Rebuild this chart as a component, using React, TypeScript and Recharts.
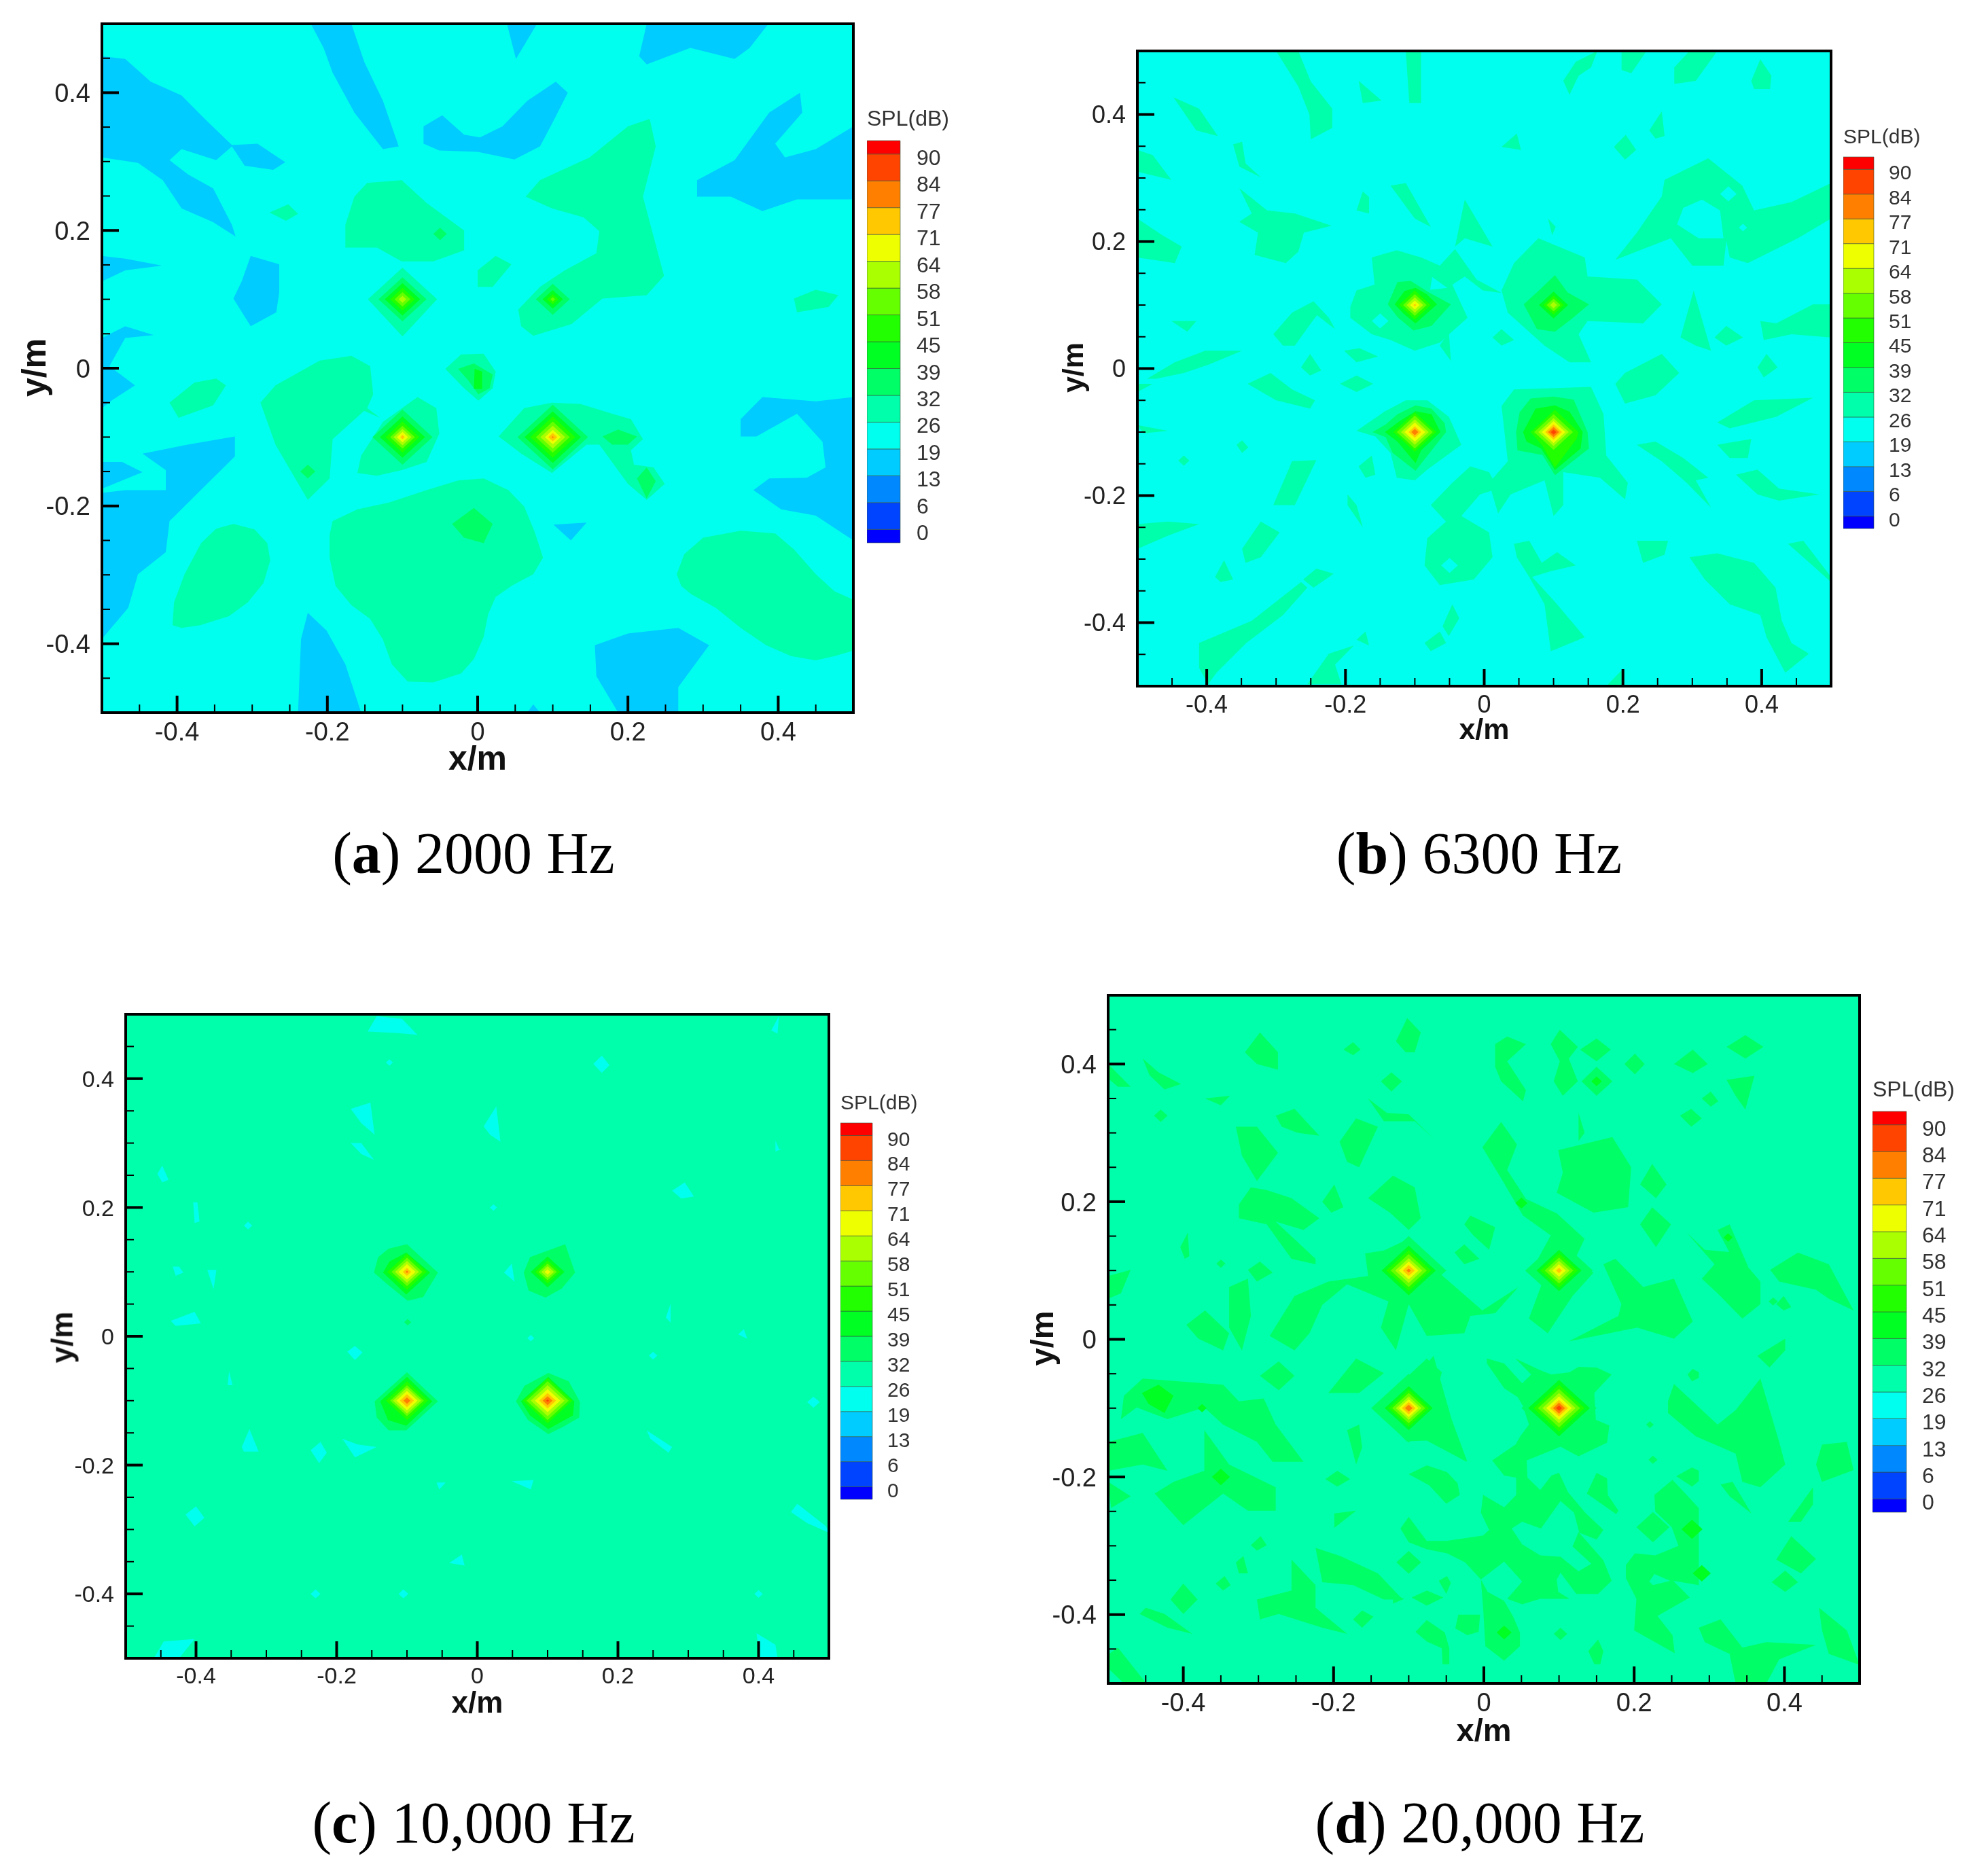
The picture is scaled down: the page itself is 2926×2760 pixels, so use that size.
import React from 'react';
import { Bar, BarChart, Scatter, ScatterChart, XAxis, YAxis } from 'recharts';

type Poly = [number[], number[]];
type Spot = [number, number, number];
type Peak = [number, number, number[]];

const tickValues = [-0.5, -0.45, -0.4, -0.35, -0.3, -0.25, -0.2, -0.15, -0.1, -0.05, 0, 0.05, 0.1, 0.15, 0.2, 0.25, 0.3, 0.35, 0.4, 0.45, 0.5];
const majorTicks = [-0.4, -0.2, 0, 0.2, 0.4];

const levelLabels = ['0', '6', '13', '19', '26', '32', '39', '45', '51', '58', '64', '71', '77', '84', '90'];
const levelPositions = [0.385, 1.385, 2.385, 3.385, 4.385, 5.385, 6.385, 7.385, 8.385, 9.385, 10.385, 11.385, 12.385, 13.385, 14.385];
const bandColors = ['#0000ff', '#0044ff', '#0088ff', '#00ccff', '#00ffee', '#00ffaa', '#00ff66', '#00ff22', '#22ff00', '#66ff00', '#aaff00', '#eeff00', '#ffc800', '#ff8000', '#ff4400', '#ff0000'];
const bandSizes = [0.5, 1, 1, 1, 1, 1, 1, 1, 1, 1, 1, 1, 1, 1, 1, 0.5];

const BLUE = '#00ccff';
const CYAN = '#00ffee';
const AQUA = '#00ffaa';
const SPRING = '#00ff66';
const GREEN = '#00ff22';
// colours of the nested diamonds round a source, from the outside in (radius 0 = band not drawn as a diamond)
const peakColors = [SPRING, GREEN, '#22ff00', '#66ff00', '#aaff00', '#eeff00', '#ffc800', '#ff8000', '#ff4400', '#ff0000'];

// (a) 2000 Hz
const aBlue: Poly[] = [
  [[-.5, -.469, -.435, -.394, -.364, -.327, -.293, -.256, -.272, -.31, -.327, -.348, -.394, -.41, -.385, -.352, -.327, -.322, -.352, -.394, -.419, -.452, -.5], [.453, .449, .416, .396, .363, .324, .326, .299, .288, .294, .322, .302, .318, .302, .281, .261, .208, .191, .212, .232, .273, .298, .306]],
  [[-.222, -.168, -.151, -.126, -.105, -.126, -.164, -.193, -.205], [.5, .5, .445, .388, .322, .318, .371, .429, .465]],
  [[.039, .079, .051], [.5, .5, .449]],
  [[.225, .387, .362, .342, .283, .225, .215], [.5, .5, .465, .449, .465, .441, .453]],
  [[-.072, -.047, -.018, .003, .033, .066, .104, .12, .099, .083, .049, 0, -.051, -.072], [.351, .367, .339, .335, .351, .388, .416, .4, .355, .322, .303, .314, .316, .326]],
  [[.292, .342, .388, .429, .432, .396, .409, .45, .5, .5, .425, .379, .337, .292], [.273, .302, .371, .4, .371, .326, .306, .318, .351, .245, .245, .228, .249, .249]],
  [[-.5, -.469, -.42, -.469, -.5], [.163, .159, .149, .142, .126]],
  [[-.302, -.264, -.264, -.268, -.302, -.325, -.314], [.163, .151, .11, .081, .061, .101, .126]],
  [[-.5, -.469, -.431, -.469, -.49, -.456, -.486, -.5], [.044, .061, .048, .044, .003, -.025, -.046, -.058]],
  [[-.5, -.469, -.415, -.415, -.446, -.386, -.323, -.323, -.361, -.41, -.415, -.452, -.465, -.5], [-.181, -.177, -.177, -.148, -.124, -.111, -.099, -.128, -.169, -.222, -.267, -.299, -.348, -.393]],
  [[-.5, -.473, -.446, -.5], [-.136, -.136, -.151, -.175]],
  [[-.226, -.201, -.176, -.155, -.239, -.235], [-.355, -.381, -.43, -.5, -.5, -.393]],
  [[.156, .2, .267, .308, .267, .267, .187, .158], [-.402, -.385, -.377, -.402, -.463, -.5, -.5, -.447]],
  [[.066, .074, .083], [-.5, -.488, -.5]],
  [[.101, .145, .124], [-.227, -.224, -.25]],
  [[.35, .379, .45, .5, .5, .45, .404, .367, .388, .438, .463, .459, .425, .371, .35], [-.074, -.042, -.048, -.042, -.25, -.214, -.205, -.177, -.16, -.159, -.144, -.107, -.066, -.099, -.099]],
];
const aAqua: Poly[] = [
  [[-.176, -.164, -.147, -.101, -.068, -.018, -.018, -.059, -.101, -.134, -.176], [.208, .249, .269, .273, .24, .2, .171, .155, .155, .175, .175]],
  [[-.277, -.252, -.239, -.255], [.226, .238, .224, .214]],
  [[0, .024, .045, .02, 0], [.142, .163, .151, .118, .118]],
  [[.064, .083, .149, .2, .229, .237, .22, .248, .225, .166, .125, .074, .058, .054, .083, .116, .158, .162, .141, .099], [.249, .273, .306, .351, .362, .322, .249, .134, .106, .101, .064, .047, .061, .085, .118, .142, .167, .199, .219, .232]],
  [[.421, .45, .48, .467, .425], [.101, .114, .106, .089, .081]],
  [[-.043, -.022, .008, .024, .02, .001, -.018], [-.001, .02, .021, -.005, -.029, -.047, -.029]],
  [[-.41, -.377, -.348, -.335, -.352, -.398], [-.05, -.021, -.015, -.025, -.054, -.072]],
  [[-.289, -.269, -.21, -.168, -.143, -.139, -.147, -.13, -.151, -.193, -.197, -.226, -.247, -.269], [-.05, -.025, .011, .018, .003, -.038, -.058, -.072, -.062, -.103, -.16, -.191, -.152, -.111]],
  [[-.16, -.155, -.126, -.08, -.055, -.051, -.068, -.101, -.134], [-.152, -.127, -.078, -.042, -.058, -.095, -.136, -.148, -.156]],
  [[-.146, -.1, -.054, -.1], [.1, .146, .1, .046]],
  [[-.193, -.16, -.118, -.068, -.026, .008, .041, .062, .076, .087, .074, .045, .024, .014, .008, -.005, -.022, -.059, -.093, -.114, -.126, -.143, -.168, -.189, -.197, -.197], [-.222, -.205, -.195, -.177, -.163, -.16, -.177, -.201, -.238, -.275, -.299, -.316, -.332, -.357, -.39, -.422, -.443, -.456, -.455, -.43, -.394, -.364, -.344, -.316, -.275, -.242]],
  [[-.406, -.404, -.39, -.368, -.348, -.325, -.297, -.28, -.276, -.285, -.306, -.331, -.369, -.394], [-.373, -.34, -.299, -.254, -.233, -.226, -.234, -.254, -.279, -.312, -.34, -.36, -.373, -.377]],
  [[.265, .275, .3, .35, .396, .421, .45, .475, .5, .5, .475, .45, .417, .384, .35, .317, .284, .271], [-.299, -.27, -.246, -.236, -.24, -.263, -.299, -.324, -.336, -.41, -.418, -.424, -.418, -.402, -.377, -.348, -.328, -.316]],
  [[.028, .062, .099, .137, .179, .204, .22, .204, .208, .234, .249, .225, .2, .162, .145, .099, .058], [-.099, -.058, -.05, -.052, -.066, -.074, -.103, -.119, -.14, -.144, -.168, -.191, -.168, -.111, -.111, -.152, -.124]],
];
const aSpring: Poly[] = [
  [[-.026, -.005, .02, .016, .001, -.013], [-.001, .007, -.009, -.029, -.038, -.017]],
  [[-.034, -.005, .02, .008, -.018], [-.226, -.203, -.226, -.254, -.246]],
  [[.166, .187, .212, .2, .179], [-.099, -.089, -.099, -.111, -.111]],
  [[.212, .225, .237, .225], [-.16, -.144, -.164, -.189]],
];
const aGreen: Poly[] = [
  [[-.004, .006, .006, -.005], [-.001, -.005, -.03, -.03]],
];
const aSpots: Spot[] = [[-.05, .195, .009], [-.226, -.15, .01]];
const aPeaks: Peak[] = [
  [-.1, .1, [.032, .0235, .0165, .0105, .005]],
  [.1, .1, [.0225, .0135, .0075, .003]],
  [-.1, -.1, [.04, .03, .0225, .0165, .012, .0075, .003]],
  [.1, -.1, [.047, .0375, .03, .0225, .0165, .0105, .006, .0015]],
];

// (b) 6300 Hz
const bAqua: Poly[] = [
  [[-.3, -.268, -.25, -.219, -.219, -.25, -.252, -.268], [.5, .5, .452, .409, .379, .361, .4, .444]],
  [[-.113, -.091, -.091, -.108], [.5, .5, .418, .418]],
  [[.114, .132, .163, .154, .136, .123], [.453, .483, .5, .474, .461, .431]],
  [[.198, .234, .212, .198], [.5, .5, .465, .47]],
  [[.296, .336, .305, .274, .274], [.5, .5, .453, .448, .474]],
  [[.385, .398, .414, .412, .389], [.453, .487, .461, .44, .44]],
  [[-.448, -.411, -.384, -.415], [.427, .409, .366, .375]],
  [[-.181, -.148, -.175], [.453, .422, .418]],
  [[.238, .256, .26, .247], [.375, .405, .366, .362]],
  [[.187, .204, .219, .203], [.349, .368, .344, .329]],
  [[.025, .047, .053], [.349, .37, .344]],
  [[-.5, -.478, -.451, -.5], [.344, .336, .297, .31]],
  [[-.362, -.349, -.344, -.322, -.353], [.353, .357, .323, .301, .318]],
  [[-.353, -.313, -.273, -.22, -.26, -.268, -.286, -.331, -.326, -.353, -.335], [.284, .249, .244, .225, .214, .184, .166, .179, .214, .231, .244]],
  [[-.5, -.464, -.436, -.446, -.5], [.236, .21, .192, .166, .175]],
  [[-.135, -.113, -.077, -.1], [.288, .292, .223, .236]],
  [[-.184, -.175, -.166, -.166], [.249, .279, .27, .244]],
  [[-.042, -.028, .012, -.028], [.192, .266, .192, .205]],
  [[.189, .22, .256, .26, .323, .372, .389, .443, .5, .5, .452, .38, .354, .349, .345, .3, .269, .238], [.171, .214, .271, .297, .331, .288, .249, .262, .292, .236, .205, .166, .175, .201, .162, .162, .205, .192]],
  [[-.193, -.184, -.158, -.162, -.126, -.091, -.064, -.042, -.011, .025, -.002, -.028, -.046, -.024, -.064, -.1, -.135, -.162, -.193], [.097, .123, .132, .175, .186, .175, .162, .188, .14, .119, .123, .145, .132, .08, .041, .028, .045, .054, .08]],
  [[-.064, -.051, -.048], [.036, .058, .012]],
  [[.025, .043, .078, .145, .149, .22, .256, .229, .149, .136, .154, .123, .087, .034], [.123, .166, .205, .175, .145, .14, .101, .071, .075, .054, .01, .01, .036, .088]],
  [[-.304, -.277, -.246, -.224, -.215, -.241, -.25, -.273, -.29], [.054, .088, .106, .08, .062, .084, .071, .036, .036]],
  [[-.451, -.415, -.428], [.075, .075, .058]],
  [[.012, .025, .043, .025], [.049, .062, .045, .036]],
  [[-.202, -.18, -.153, -.184], [.028, .032, .019, .01]],
  [[.283, .302, .327, .305], [.049, .123, .028, .036]],
  [[.332, .349, .373, .349], [.049, .067, .049, .036]],
  [[.398, .421, .474, .5, .5, .443, .403], [.075, .071, .101, .101, .049, .054, .045]],
  [[-.486, -.446, -.402, -.349, -.398, -.433, -.473], [-.016, .01, .028, .028, .006, -.007, -.016]],
  [[-.264, -.251, -.235, -.251], [.002, .023, -.003, -.011]],
  [[.394, .407, .423, .403], [.002, .023, .002, -.014]],
  [[-.208, -.184, -.16, -.184], [-.024, -.011, -.024, -.037]],
  [[-.341, -.308, -.277, -.244, -.251, -.3], [-.024, -.007, -.033, -.05, -.063, -.05]],
  [[.189, .203, .256, .281, .247, .203], [-.024, -.007, .023, -.007, -.042, -.055]],
  [[-.184, -.144, -.113, -.082, -.051, -.033, -.082, -.1, -.126, -.135, -.157], [-.098, -.068, -.05, -.05, -.076, -.12, -.159, -.176, -.172, -.133, -.107]],
  [[.025, .043, .154, .172, .176, .207, .203, .167, .114, .114, .1, .087, .038, .02, .007, .034], [-.059, -.033, -.029, -.072, -.137, -.18, -.206, -.172, -.163, -.215, -.232, -.176, -.198, -.228, -.18, -.146]],
  [[-.077, -.046, -.02, .007, .02, -.006, -.033, .007, .012, -.015, -.064, -.086, -.082, -.055], [-.215, -.18, -.154, -.163, -.189, -.198, -.232, -.258, -.297, -.332, -.341, -.31, -.267, -.241]],
  [[-.5, -.456, -.411, -.456, -.5], [-.245, -.241, -.245, -.263, -.284]],
  [[-.349, -.322, -.295, -.322, -.344], [-.284, -.241, -.258, -.297, -.306]],
  [[-.304, -.277, -.242, -.273, -.3], [-.215, -.146, -.144, -.215, -.215]],
  [[-.181, -.162, -.157, -.171], [-.154, -.137, -.167, -.172]],
  [[-.197, -.184, -.175, -.197], [-.198, -.215, -.25, -.215]],
  [[-.357, -.349, -.34, -.349], [-.12, -.113, -.124, -.133]],
  [[-.5, -.456, -.491], [-.089, -.098, -.102]],
  [[.22, .247, .287, .323, .305, .327, .292, .256], [-.12, -.115, -.141, -.172, -.176, -.219, -.18, -.146]],
  [[.336, .385, .38, .354], [-.12, -.111, -.141, -.141]],
  [[.336, .389, .474, .421, .354], [-.085, -.05, -.046, -.076, -.094]],
  [[.363, .394, .425, .483, .425, .394], [-.167, -.159, -.189, -.198, -.208, -.198]],
  [[.296, .336, .389, .42, .429, .443, .468, .434, .407, .398, .354, .318], [-.297, -.291, -.306, -.345, -.397, -.432, -.449, -.479, -.423, -.388, -.371, -.332]],
  [[.438, .46, .5, .5, .465], [-.276, -.271, -.328, -.336, -.302]],
  [[.22, .265, .26, .229], [-.271, -.271, -.293, -.306]],
  [[.043, .065, .083, .105, .132, .096, .069, .105, .145, .096, .087, .065, .047], [-.276, -.271, -.306, -.289, -.31, -.319, -.328, -.371, -.423, -.445, -.371, -.328, -.297]],
  [[-.411, -.335, -.264, -.255, -.29, -.343, -.386, -.398, -.411], [-.432, -.397, -.336, -.345, -.388, -.432, -.479, -.497, -.471]],
  [[-.261, -.242, -.217, -.246], [-.332, -.315, -.323, -.345]],
  [[-.388, -.375, -.362, -.38], [-.328, -.302, -.332, -.336]],
  [[-.255, -.224, -.188, -.215, -.206], [-.497, -.449, -.436, -.466, -.497]],
  [[-.086, -.064, -.055, -.077], [-.432, -.414, -.432, -.445]],
  [[-.06, -.046, -.036, -.051], [-.406, -.371, -.393, -.421]],
  [[-.184, -.171, -.166], [-.427, -.414, -.436]],
  [[.176, .198, .198], [-.5, -.5, -.475]],
  [[-.5, -.478, -.5], [-.024, -.024, -.037]],
  [[.092, .103, .098], [.236, .223, .21]],
];
const bHoles: Poly[] = [
  [[.278, .287, .314, .34, .345, .309], [.227, .253, .266, .249, .205, .205]],
  [[-.078, -.075, -.053], [.124, .144, .127]],
];
const bHoleSpots: Spot[] = [[.352, .275, .012], [.373, .222, .006], [-.15, .075, .012], [-.05, -.31, .012]];
const bSpots: Spot[] = [[-.433, -.145, .008]];
const bSpring: Poly[] = [
  [[-.139, -.125, -.106, -.08, -.048, -.076, -.102, -.125], [.101, .136, .138, .12, .101, .067, .06, .081]],
  [[.057, .08, .102, .12, .151, .126, .102, .076], [.101, .124, .147, .12, .101, .078, .058, .062]],
  [[-.161, -.142, -.125, -.099, -.076, -.057, -.055, -.084, -.099, -.132, -.142], [-.1, -.088, -.072, -.058, -.063, -.086, -.1, -.14, -.161, -.133, -.108]],
  [[.046, .051, .067, .1, .129, .149, .151, .102, .084, .048], [-.1, -.069, -.047, -.044, -.049, -.1, -.126, -.168, -.136, -.129]],
];
const bGreen: Poly[] = [
  [[-.129, -.115, -.099, -.083, -.068, -.099, -.115], [.101, .122, .127, .117, .101, .071, .085]],
  [[-.143, -.122, -.099, -.076, -.063, -.091, -.099, -.125], [-.1, -.083, -.067, -.072, -.1, -.129, -.149, -.115]],
  [[.056, .074, .102, .123, .142, .139, .102, .082, .061], [-.1, -.063, -.058, -.068, -.1, -.126, -.16, -.126, -.115]],
];
const bLime: Poly[] = [
  [[.067, .102, .136, .133, .102, .084], [-.1, -.065, -.1, -.111, -.156, -.122]],
];
const bPeaks: Peak[] = [
  [-.1, .1, [0, 0, .023, .017, .012, .007, .002]],
  [.1, .1, [0, .021, .015, .01, .005]],
  [-.1, -.1, [0, 0, .031, .026, .02, .015, .009, .005]],
  [.1, -.1, [0, 0, 0, .028, .022, .017, .012, .008, .004]],
];

// (c) 10,000 Hz
const cCyan: Poly[] = [
  [[-.156, -.143, -.107, -.085, -.116], [.473, .497, .493, .468, .471]],
  [[-.18, -.152, -.146, -.165], [.353, .363, .313, .331]],
  [[.009, .027, .033, .018], [.326, .357, .302, .313]],
  [[.165, .177, .188, .177], [.423, .436, .421, .409]],
  [[-.18, -.165, -.147, -.165], [.3, .3, .274, .283]],
  [[.277, .295, .308, .29], [.226, .239, .217, .214]],
  [[-.455, -.448, -.439, -.448], [.252, .265, .243, .239]],
  [[-.404, -.398, -.395, -.402], [.208, .208, .178, .176]],
  [[-.384, -.371, -.375], [.103, .103, .073]],
  [[-.436, -.402, -.393, -.429], [.024, .038, .02, .016]],
  [[-.185, -.174, -.163, -.174], [-.024, -.015, -.025, -.037]],
  [[-.335, -.324, -.311, -.332], [-.172, -.144, -.179, -.179]],
  [[-.237, -.223, -.214, -.225], [-.177, -.164, -.181, -.197]],
  [[-.192, -.17, -.143, -.174], [-.159, -.168, -.172, -.188]],
  [[.241, .277, .272, .246], [-.146, -.172, -.181, -.159]],
  [[.049, .08, .076], [-.225, -.223, -.238]],
  [[-.058, -.045, -.054], [-.227, -.227, -.238]],
  [[-.415, -.4, -.388, -.402], [-.277, -.264, -.282, -.295]],
  [[-.04, -.022, -.018], [-.352, -.339, -.356]],
  [[.446, .455, .496, .5, .469], [-.273, -.26, -.295, -.305, -.29]],
  [[-.46, -.446, -.402, -.424], [-.5, -.474, -.47, -.5]],
  [[.397, .424, .427, .402], [-.461, -.479, -.5, -.5]],
  [[.418, .429, .427], [.475, .497, .47]],
  [[.424, .429, .433, .424], [.304, .291, .291, .287]],
  [[.268, .275, .275], [.029, .051, .021]],
  [[.371, .379, .384], [.003, .011, -.004]],
  [[.469, .478, .487, .478], [-.102, -.094, -.102, -.111]],
  [[.038, .049, .053], [.099, .113, .085]],
  [[-.353, -.348, -.355], [-.054, -.076, -.076]],
  [[-.433, -.424, -.418, -.429], [.108, .108, .099, .094]],
];
const cCyanSpots: Spot[] = [[-.125, .425, .005], [.023, .2, .005], [-.326, .172, .006], [.25, -.03, .006], [-.23, -.4, .007], [-.105, -.4, .007], [.4, -.4, .006], [.076, -.003, .005]];
const cSpring: Poly[] = [
  [[-.147, -.141, -.126, -.1, -.056, -.077, -.099, -.125], [.099, .123, .136, .143, .099, .061, .055, .078]],
  [[.066, .075, .125, .139, .12, .097, .073], [.099, .123, .143, .099, .074, .06, .071]],
  [[-.146, -.1, -.056, -.101, -.126, -.143], [-.101, -.056, -.101, -.146, -.146, -.126]],
  [[.055, .067, .101, .13, .146, .145, .123, .101, .072], [-.101, -.077, -.057, -.07, -.102, -.126, -.14, -.152, -.13]],
];
const cSpringSpots: Spot[] = [[-.099, .022, .005]];
const cGreen: Poly[] = [
  [[-.134, -.125, -.101, -.067, -.101], [.099, .116, .13, .099, .065]],
  [[-.138, -.1, -.064, -.101, -.127], [-.101, -.063, -.101, -.139, -.13]],
  [[.062, .101, .138, .136, .101, .075], [-.101, -.063, -.101, -.123, -.144, -.123]],
];
const cPeaks: Peak[] = [
  [-.1, .1, [0, 0, .028, .022, .017, .012, .006, .002]],
  [.1, .1, [0, .024, .018, .013, .009, .004]],
  [-.1, -.1, [0, 0, .03, .024, .02, .015, .01, .005]],
  [.1, -.1, [0, 0, .035, .03, .024, .018, .012, .007, .002]],
];

// (d) 20,000 Hz
const dSpring: Poly[] = [
  [[-.117, -.102, -.084, -.092, -.104], [.433, .467, .446, .417, .417]],
  [[-.318, -.298, -.274, -.274, -.302], [.417, .446, .417, .392, .4]],
  [[-.187, -.174, -.164, -.174], [.421, .432, .421, .413]],
  [[.015, .031, .056, .031, .056, .052, .023, .015], [.429, .44, .429, .404, .362, .346, .375, .396]],
  [[.089, .101, .125, .113, .125, .105, .093, .101], [.429, .45, .425, .408, .375, .354, .375, .404]],
  [[.128, .15, .169, .15], [.421, .437, .421, .404]],
  [[.13, .15, .171, .15], [.375, .396, .375, .354]],
  [[.187, .201, .214, .201], [.4, .415, .4, .385]],
  [[.253, .278, .298, .278], [.4, .421, .4, .387]],
  [[.323, .348, .372, .348], [.425, .442, .425, .408]],
  [[.323, .36, .348, .335], [.377, .383, .334, .354]],
  [[-.137, -.123, -.109, -.123], [.375, .388, .375, .36]],
  [[.29, .302, .312, .302], [.35, .36, .346, .338]],
  [[.261, .276, .29, .276], [.325, .335, .321, .309]],
  [[-.454, -.433, -.403, -.425, -.445], [.408, .388, .371, .363, .384]],
  [[-.5, -.47, -.487, -.5], [.4, .367, .367, .379]],
  [[-.154, -.129, -.1, -.067, -.092, -.133], [.35, .329, .327, .292, .317, .317]],
  [[-.277, -.252, -.219, -.248, -.269], [.325, .335, .296, .3, .309]],
  [[-.371, -.338, -.35], [.35, .354, .34]],
  [[-.192, -.17, -.141, -.166, -.182], [.287, .321, .309, .25, .258]],
  [[-.33, -.302, -.274, -.302, -.322], [.309, .309, .271, .23, .267]],
  [[-.002, .023, .044, .031, .056, .097, .134, .118, .146, .118, .085, .06, .081, .072, .089, .052, .023], [.279, .316, .283, .246, .204, .183, .146, .109, .097, .063, .009, .03, .092, .117, .151, .18, .234]],
  [[.099, .171, .196, .192, .146, .097, .105], [.275, .294, .25, .192, .184, .213, .242]],
  [[.126, .126, .134, .126], [.309, .329, .3, .288]],
  [[.208, .224, .243, .229], [.225, .255, .225, .205]],
  [[.208, .224, .249, .229], [.167, .192, .167, .134]],
  [[-.326, -.31, -.289, -.256, -.219, -.24, -.265, -.277, -.224, -.224, -.256, -.289, -.326], [.196, .221, .217, .205, .176, .159, .167, .171, .117, .109, .117, .167, .176]],
  [[-.215, -.199, -.187, -.203], [.2, .225, .192, .184]],
  [[-.154, -.121, -.092, -.084, -.1, -.125], [.205, .238, .221, .176, .159, .184]],
  [[-.026, -.018, .015, .007, -.014], [.167, .18, .163, .13, .151]],
  [[-.039, -.026, -.006, -.026], [.126, .138, .117, .109]],
  [[-.158, -.133, -.1, -.063, -.002, .046, .015, -.018, -.026, -.076, -.1, -.117, -.137, -.127, -.182, -.215, -.232, -.252, -.285, -.252, -.207, -.154], [.125, .129, .146, .1, .042, .076, .038, .034, .009, .005, .051, -.016, .017, .055, .08, .05, .009, -.016, .005, .063, .084, .092]],
  [[.159, .175, .212, .253, .278, .253, .204, .113, .179, .183], [.109, .117, .076, .088, .026, .001, .017, -.003, .034, .051]],
  [[.27, .294, .335, .368, .368, .344, .311, .29, .307], [.155, .13, .126, .084, .051, .03, .067, .088, .109]],
  [[.311, .327, .352, .327], [.159, .167, .105, .126]],
  [[.381, .418, .459, .492, .459, .442, .393], [.101, .126, .109, .042, .059, .072, .084]],
  [[.389, .399, .409, .399], [.051, .063, .047, .042]],
  [[-.5, -.47, -.483, -.5], [.092, .101, .067, .059]],
  [[-.339, -.314, -.31, -.322, -.339], [.076, .088, .034, -.016, .017]],
  [[-.314, -.298, -.281, -.302], [.101, .113, .097, .084]],
  [[-.396, -.371, -.339, -.347, -.38], [.021, .042, .009, -.016, .001]],
  [[-.084, -.043, -.02, -.051, -.084], [.034, .042, .026, .009, .026]],
  [[.364, .401, .401, .38], [-.024, .001, -.016, -.041]],
  [[.004, .027, .045, .052, .06, .049, .042, .011, .027, .043, .043, .027, -.001, -.004, .007, -.001, -.05, -.076, -.1, -.111, -.1, -.076, -.049, -.025, -.004, .027, .051, .031, .051, .075, .114, .099, .097, .102, .123, .152, .17, .159, .126, .118, .143, .126, .102, .075, .051, .037, .051, .076, .102, .12, .127, .15, .159, .135, .112, .1, .09, .075, .058, .057, .102, .126, .164, .167, .149, .147, .17, .15, .126, .114, .09, .075, .042, .063, .051, .027, .004], [-.035, -.071, -.084, -.097, -.124, -.14, -.153, -.176, -.198, -.201, -.226, -.244, -.226, -.252, -.277, -.285, -.293, -.293, -.258, -.275, -.295, -.305, -.311, -.324, -.349, -.323, -.352, -.377, -.385, -.377, -.377, -.367, -.349, -.339, -.37, -.37, -.351, -.321, -.28, -.301, -.326, -.337, -.316, -.314, -.298, -.275, -.265, -.275, -.235, -.252, -.281, -.291, -.277, -.252, -.222, -.194, -.198, -.219, -.201, -.176, -.156, -.17, -.15, -.125, -.117, -.078, -.051, -.041, -.04, -.048, -.051, -.045, -.028, -.051, -.064, -.035, -.028]],
  [[-.141, -.092, -.067, -.043, -.022, -.059, -.1, -.129], [-.099, -.057, -.024, -.116, -.178, -.141, -.136, -.107]],
  [[-.121, -.076, -.056, -.062, -.049, -.023, -.076, -.103, -.121], [-.074, -.028, -.048, -.074, -.117, -.178, -.147, -.148, -.127]],
  [[-.207, -.17, -.133, -.166], [-.078, -.028, -.049, -.078]],
  [[-.298, -.273, -.252, -.273], [-.053, -.032, -.053, -.074]],
  [[-.483, -.479, -.454, -.347, -.326, -.293, -.277, -.24, -.281, -.302, -.347, -.372, -.421, -.462], [-.116, -.082, -.057, -.066, -.09, -.086, -.124, -.178, -.178, -.149, -.124, -.099, -.116, -.099]],
  [[-.5, -.454, -.421, -.454, -.5], [-.149, -.136, -.191, -.182, -.191]],
  [[-.438, -.413, -.372, -.372, -.339, -.277, -.277, -.314, -.347, -.4, -.421], [-.224, -.207, -.191, -.132, -.182, -.215, -.249, -.249, -.224, -.27, -.245]],
  [[-.5, -.47, -.496], [-.207, -.228, -.245]],
  [[-.211, -.195, -.178, -.195], [-.203, -.191, -.203, -.214]],
  [[-.182, -.166, -.162, -.17], [-.132, -.124, -.157, -.182]],
  [[-.1, -.076, -.049, -.035, -.032, -.05, -.073], [-.196, -.183, -.193, -.209, -.226, -.239, -.212]],
  [[-.199, -.17, -.199], [-.253, -.249, -.274]],
  [[-.004, .005, .027, .039, .048, .048, .027, .002, -.001], [-.349, -.367, -.38, -.403, -.426, -.446, -.467, -.446, -.39]],
  [[.137, .15, .164, .165, .179, .176], [-.224, -.194, -.202, -.226, -.249, -.254]],
  [[-.06, -.049, -.044, -.05], [-.351, -.344, -.354, -.37]],
  [[-.096, -.076, -.054, -.076], [-.375, -.365, -.375, -.387]],
  [[-.038, -.034, -.005, -.007, -.022], [-.42, -.4, -.4, -.425, -.43]],
  [[-.091, -.076, -.052, -.046, -.046, -.055, -.056, -.076], [-.425, -.408, -.426, -.449, -.472, -.472, -.449, -.439]],
  [[.139, .152, .159, .155, .147], [-.453, -.436, -.453, -.472, -.472]],
  [[-.121, -.106, -.121], [-.37, -.377, -.384]],
  [[.227, .251, .286, .286, .252, .274, .231, .251, .254, .2, .203, .189, .189, .201, .228, .259, .25, .228], [-.226, -.204, -.245, -.357, -.351, -.375, -.402, -.43, -.456, -.423, -.377, -.347, -.328, -.311, -.314, -.3, -.273, -.25]],
  [[.271, .278, .286, .286, .277], [-.051, -.043, -.048, -.056, -.061]],
  [[.256, .277, .286, .286, .277], [-.199, -.186, -.191, -.206, -.214]],
  [[-.224, -.191, -.141, -.108, -.133, -.174, -.215], [-.303, -.315, -.34, -.378, -.378, -.357, -.353]],
  [[-.302, -.256, -.256, -.224, -.224, -.182, -.215, -.273, -.298], [-.378, -.365, -.32, -.357, -.39, -.428, -.419, -.399, -.407]],
  [[-.33, -.32, -.314, -.326], [-.324, -.315, -.34, -.34]],
  [[-.357, -.345, -.337, -.347], [-.355, -.344, -.357, -.365]],
  [[-.417, -.4, -.381, -.4], [-.378, -.355, -.378, -.399]],
  [[-.31, -.297, -.289, -.302], [-.299, -.286, -.299, -.307]],
  [[-.458, -.45, -.425, -.388, -.421], [-.399, -.39, -.399, -.428, -.419]],
  [[-.5, -.487, -.45, -.479, -.5], [-.458, -.448, -.499, -.5, -.478]],
  [[-.174, -.162, -.147, -.162], [-.407, -.394, -.403, -.419]],
  [[.315, .331, .356, .327], [-.211, -.207, -.253, -.228]],
  [[.245, .253, .311, .335, .368, .393, .401, .368, .344, .335, .282, .245], [-.09, -.065, -.124, -.103, -.057, -.149, -.182, -.215, -.207, -.166, -.141, -.107]],
  [[.389, .409, .442, .422], [-.32, -.286, -.319, -.34]],
  [[.383, .401, .418, .401], [-.353, -.336, -.353, -.367]],
  [[.286, .315, .344, .376, .442, .393, .376, .335, .327, .294], [-.419, -.407, -.448, -.44, -.444, -.465, -.5, -.5, -.457, -.44]],
  [[.446, .483, .5, .459, .45], [-.39, -.423, -.473, -.457, -.423]],
  [[.45, .483, .492, .45, .442], [-.153, -.149, -.19, -.207, -.182]],
  [[.405, .438, .438, .422], [-.265, -.215, -.24, -.265]],
  [[-.404, -.394, -.392, -.398], [.134, .155, .121, .117]],
];
const dHoles: Poly[] = [
  [[.22, .227, .248, .225], [-.352, -.341, -.351, -.357]],
];
const dSpringSpots: Spot[] = [[-.43, .325, .009], [-.35, .11, .006], [.385, .055, .006], [-.1, -.324, .0165], [.102, -.428, .009], [.225, -.273, .022], [.221, -.124, .005], [.225, -.175, .006]];
const dGreen: Poly[] = [
  [[-.455, -.433, -.413, -.425, -.446], [-.078, -.066, -.082, -.107, -.094]],
];
const dGreenSpots: Spot[] = [[-.35, -.2, .012], [.15, .375, .007], [.05, .198, .008], [.325, .148, .006], [.277, -.276, .014], [.29, -.34, .012], [.027, -.426, .01], [-.375, -.1, .006]];
const dPeaks: Peak[] = [
  [-.1, .1, [.05, .036, .03, .024, .018, .013, .008, .003]],
  [.1, .1, [.045, .03, .025, .019, .014, .009, .004]],
  [-.1, -.1, [.05, .032, .027, .022, .017, .013, .009, .005]],
  [.1, -.1, [.05, .041, .034, .028, .022, .017, .012, .008, .004]],
];

type Layer = { fill: string; polys?: Poly[]; spots?: Spot[] };
type Panel = {
  bold: string; hz: string;
  frame: [number, number, number, number];
  legend: [number, number, number, number];
  legendTitleY: number; legendLabelX: number; legendFont: number;
  tickFont: number; titleFont: number; captionY: number; captionX: number;
  xTitleY: number; yTitleX: number; yTitleY: number;
  background: string; layers: Layer[]; peaks: Peak[];
};

const panels: Panel[] = [
  {
    bold: 'a', hz: '2000 Hz', frame: [150, 35, 1256, 1049], legend: [1276, 207, 1325, 799],
    legendTitleY: 174, legendLabelX: 1349, legendFont: 32, tickFont: 38, titleFont: 50, captionX: 697, captionY: 1284,
    xTitleY: 1116, yTitleX: 50, yTitleY: 541,
    background: CYAN, peaks: aPeaks,
    layers: [
      { fill: BLUE, polys: aBlue }, { fill: AQUA, polys: aAqua },
      { fill: SPRING, polys: aSpring, spots: aSpots }, { fill: GREEN, polys: aGreen },
    ],
  },
  {
    bold: 'b', hz: '6300 Hz', frame: [1674, 75, 2695, 1010], legend: [2713, 231, 2758, 778],
    legendTitleY: 201, legendLabelX: 2780, legendFont: 30, tickFont: 36, titleFont: 43, captionX: 2177, captionY: 1284,
    xTitleY: 1073, yTitleX: 1579, yTitleY: 541,
    background: CYAN, peaks: bPeaks,
    layers: [
      { fill: AQUA, polys: bAqua }, { fill: CYAN, polys: bHoles, spots: bHoleSpots },
      { fill: AQUA, spots: bSpots }, { fill: SPRING, polys: bSpring }, { fill: GREEN, polys: bGreen },
      { fill: '#22ff00', polys: bLime },
    ],
  },
  {
    bold: 'c', hz: '10,000 Hz', frame: [185, 1493, 1220, 2441], legend: [1237, 1653, 1284, 2207],
    legendTitleY: 1623, legendLabelX: 1306, legendFont: 30, tickFont: 34, titleFont: 44, captionX: 697, captionY: 2711,
    xTitleY: 2506, yTitleX: 91, yTitleY: 1969,
    background: AQUA, peaks: cPeaks,
    layers: [
      { fill: CYAN, polys: cCyan, spots: cCyanSpots }, { fill: SPRING, polys: cSpring, spots: cSpringSpots },
      { fill: GREEN, polys: cGreen },
    ],
  },
  {
    bold: 'd', hz: '20,000 Hz', frame: [1631, 1465, 2737, 2478], legend: [2756, 1636, 2806, 2226],
    legendTitleY: 1603, legendLabelX: 2829, legendFont: 32, tickFont: 38, titleFont: 47, captionX: 2178, captionY: 2711,
    xTitleY: 2547, yTitleX: 1534, yTitleY: 1970,
    background: AQUA, peaks: dPeaks,
    layers: [
      { fill: SPRING, polys: dSpring, spots: dSpringSpots },
      { fill: AQUA, polys: dHoles },
      { fill: GREEN, polys: dGreen, spots: dGreenSpots },
    ],
  },
];

const toPoints = ([xs, ys]: Poly) => xs.map((x, i) => ({ x, y: ys[i] }));
const diamond = (cx: number, cy: number, r: number) => [
  { x: cx - r, y: cy }, { x: cx, y: cy + r }, { x: cx + r, y: cy }, { x: cx, y: cy - r },
];
const corners = [{ x: -0.5, y: 0.5 }, { x: 0.5, y: 0.5 }, { x: 0.5, y: -0.5 }, { x: -0.5, y: -0.5 }];
const noPoint = () => <g />;

const region = (key: string, data: { x: number; y: number }[], fill: string, stroke = 'none', strokeWidth = 0) => (
  <Scatter
    key={key}
    data={data}
    fill={fill}
    shape={noPoint}
    line={{ fill, stroke, strokeWidth }}
    lineJointType="linearClosed"
    isAnimationActive={false}
  />
);

const XTick = ({ x, y, payload, fontSize }: any) => {
  const major = majorTicks.includes(payload.value);
  return (
    <g>
      <line x1={x} x2={x} y1={y} y2={y - (major ? 25 : 12)} stroke="#000" strokeWidth={major ? 4 : 2} />
      {major && <text x={x} y={y + fontSize * 1.08} textAnchor="middle" fontSize={fontSize} fontFamily="Liberation Sans" fill="#222">{String(payload.value)}</text>}
    </g>
  );
};

const YTick = ({ x, y, payload, fontSize }: any) => {
  const major = majorTicks.includes(payload.value);
  return (
    <g>
      <line x1={x} x2={x + (major ? 25 : 12)} y1={y} y2={y} stroke="#000" strokeWidth={major ? 4 : 2} />
      {major && <text x={x - 17} y={y + fontSize * 0.36} textAnchor="end" fontSize={fontSize} fontFamily="Liberation Sans" fill="#222">{String(payload.value)}</text>}
    </g>
  );
};

const LegendTick = ({ x, y, payload, index, fontSize }: any) => (
  <text x={x} y={y + fontSize * 0.36} fontSize={fontSize} fontFamily="Liberation Sans" fill="#333">{levelLabels[index] ?? payload.value}</text>
);

const legendRow = [{ name: 'SPL', ...Object.fromEntries(bandSizes.map((s, i) => [`band${i}`, s])) }];

const GUTTER_L = 130;
const GUTTER_B = 54;
const GUTTER_T = 6;

const ContourPanel = ({ p }: { p: Panel }) => {
  const [l, t, r, b] = p.frame;
  const w = r - l;
  const h = b - t;
  const items: React.ReactNode[] = [region('bg', corners, p.background)];
  p.layers.forEach((layer, li) => {
    (layer.polys ?? []).forEach((poly, i) => items.push(region(`p${li}-${i}`, toPoints(poly), layer.fill)));
    (layer.spots ?? []).forEach(([cx, cy, rad], i) => items.push(region(`s${li}-${i}`, diamond(cx, cy, rad), layer.fill)));
  });
  p.peaks.forEach(([cx, cy, radii], i) => {
    radii.forEach((rad, j) => {
      if (rad > 0) items.push(region(`k${i}-${j}`, diamond(cx, cy, rad), peakColors[j]));
    });
  });
  const titleStyle: React.CSSProperties = {
    position: 'absolute', fontFamily: 'Liberation Sans', fontWeight: 700, fontSize: p.titleFont, lineHeight: `${Math.round(p.titleFont * 0.8)}px`,
    width: 100, height: Math.round(p.titleFont * 0.8), textAlign: 'center', color: '#111', filter: 'blur(0.5px)',
  };
  const titleTop = Math.round(p.titleFont * 0.4);
  return (
    <>
      <div style={{ position: 'absolute', left: l - GUTTER_L, top: t - GUTTER_T, filter: 'blur(0.7px)' }}>
        <ScatterChart
          width={w + GUTTER_L + 6}
          height={h + GUTTER_T + GUTTER_B}
          margin={{ top: GUTTER_T, right: 6, bottom: 0, left: 0 }}
        >
          {items}
          <XAxis
            type="number"
            dataKey="x"
            domain={[-0.5, 0.5]}
            ticks={tickValues}
            interval={0}
            height={GUTTER_B}
            tickSize={0}
            tickMargin={0}
            tickLine={false}
            axisLine={false}
            tick={(props: any) => <XTick {...props} fontSize={p.tickFont} />}
          />
          <YAxis
            type="number"
            dataKey="y"
            domain={[-0.5, 0.5]}
            ticks={tickValues}
            interval={0}
            width={GUTTER_L}
            tickSize={0}
            tickMargin={0}
            tickLine={false}
            axisLine={false}
            tick={(props: any) => <YTick {...props} fontSize={p.tickFont} />}
          />
          {region('frame', corners, 'none', '#000', 4)}
        </ScatterChart>
      </div>
      <div style={{ ...titleStyle, left: (l + r) / 2 - 50, top: p.xTitleY - titleTop }}>x/m</div>
      <div style={{ ...titleStyle, left: p.yTitleX - 50, top: p.yTitleY - titleTop, transform: 'rotate(-90deg)' }}>y/m</div>
    </>
  );
};

const ColorBar = ({ p }: { p: Panel }) => {
  const [l, t, r, b] = p.legend;
  const labelW = p.legendLabelX - r + 60;
  return (
    <>
      <div style={{ position: 'absolute', left: l, top: p.legendTitleY - p.legendFont * 0.6, fontSize: p.legendFont, lineHeight: `${p.legendFont * 1.2}px`, fontFamily: 'Liberation Sans', color: '#333', whiteSpace: 'nowrap', filter: 'blur(0.5px)' }}>SPL(dB)</div>
      <div style={{ position: 'absolute', left: l, top: t - 10, filter: 'blur(0.5px)' }}>
        <BarChart width={r - l + labelW} height={b - t + 20} data={legendRow} barCategoryGap={0} margin={{ top: 10, right: 0, bottom: 10, left: 0 }}>
          <XAxis dataKey="name" hide />
          <YAxis
            orientation="right"
            type="number"
            domain={[0, 15]}
            ticks={levelPositions}
            interval={0}
            width={labelW}
            tickSize={0}
            tickMargin={p.legendLabelX - r}
            tickLine={false}
            axisLine={false}
            tick={(props: any) => <LegendTick {...props} fontSize={p.legendFont} />}
          />
          {bandColors.map((c, i) => (
            <Bar key={c} dataKey={`band${i}`} stackId="bar" fill={c} stroke="#33553a" strokeWidth={0.6} isAnimationActive={false} />
          ))}
        </BarChart>
      </div>
    </>
  );
};

const Caption = ({ p }: { p: Panel }) => (
  <div style={{ position: 'absolute', left: p.captionX - 400, width: 800, top: p.captionY - 76, textAlign: 'center', fontSize: 86, lineHeight: '96px', fontFamily: 'Liberation Serif', color: '#000' }}>
    (<b>{p.bold}</b>) {p.hz}
  </div>
);

export default function App() {
  return (
    <div style={{ position: 'absolute', left: 0, top: 0, width: 2926, height: 2760, background: '#fff', overflow: 'hidden' }}>
      {panels.map((p) => (
        <React.Fragment key={p.bold}>
          <ContourPanel p={p} />
          <ColorBar p={p} />
          <Caption p={p} />
        </React.Fragment>
      ))}
    </div>
  );
}
